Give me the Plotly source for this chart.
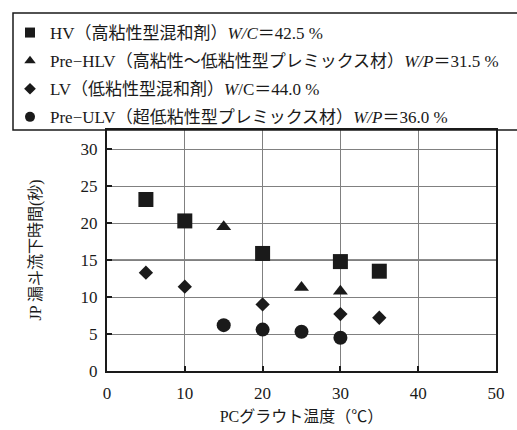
import plotly.graph_objects as go

# Data
hv_x = [5, 10, 20, 30, 35]
hv_y = [23.2, 20.3, 15.9, 14.8, 13.5]
phlv_x = [15, 25, 30]
phlv_y = [19.5, 11.3, 10.8]
lv_x = [5, 10, 20, 30, 35]
lv_y = [13.3, 11.4, 9.0, 7.7, 7.2]
pulv_x = [15, 20, 25, 30]
pulv_y = [6.2, 5.6, 5.3, 4.5]

names = [
    "HV（高粘性型混和剤）<i>W/C</i>＝42.5 %",
    "Pre−HLV（高粘性～低粘性型プレミックス材）<i>W/P</i>＝31.5 %",
    "LV（低粘性型混和剤）<i>W</i>/C＝44.0 %",
    "Pre−ULV（超低粘性型プレミックス材）<i>W/P</i>＝36.0 %",
]
x_ticks = [0, 10, 20, 30, 40, 50]
y_ticks = [0, 5, 10, 15, 20, 25, 30]
x_title = "PCグラウト温度（℃）"
y_title = "JP 漏斗流下時間(秒)"

FONT = "Liberation Serif, Noto Sans CJK JP, serif"
INK = "#1a1a1a"

fig = go.Figure()
series = [
    (hv_x, hv_y, "square", 15, 10),
    (phlv_x, phlv_y, "triangle-up", 13, 10),
    (lv_x, lv_y, "diamond", 11, 9),
    (pulv_x, pulv_y, "circle", 14, 10),
]
for i, (xs, ys, sym, sz, lsz) in enumerate(series):
    fig.add_trace(go.Scatter(
        x=xs, y=ys, mode="markers", name=names[i], showlegend=False,
        marker=dict(symbol=sym, size=sz, color=INK, line=dict(width=0)),
    ))
    # legend-only entry with smaller symbol
    fig.add_trace(go.Scatter(
        x=[None], y=[None], mode="markers", name=names[i], legendgroup=f"g{i}",
        marker=dict(symbol=sym, size=lsz, color=INK, line=dict(width=0)),
    ))

fig.update_layout(
    width=517, height=430,
    margin=dict(l=107, r=21, t=130, b=59, autoexpand=False),
    paper_bgcolor="white", plot_bgcolor="white",
    font=dict(family=FONT, size=16, color=INK),
    showlegend=True,
    legend=dict(
        x=(10 - 107) / 389, y=(371 - 15) / 241, xanchor="left", yanchor="top",
        bgcolor="rgba(0,0,0,0)", borderwidth=0,
        tracegroupgap=3, itemsizing="trace",
        font=dict(family=FONT, size=17, color=INK),
    ),
)
# legend frame (extends past the right edge, as in the reference)
fig.add_shape(type="rect", xref="paper", yref="paper",
              x0=(13 - 107) / 389, x1=1.2, y0=1.0, y1=(371 - 13) / 241,
              line=dict(color=INK, width=1.5), fillcolor="rgba(0,0,0,0)", layer="above")

fig.update_xaxes(
    range=[0, 50], tickvals=x_ticks, ticktext=[str(v) for v in x_ticks],
    tickfont=dict(family=FONT, size=17), ticklabelstandoff=6,
    showgrid=True, gridcolor="#808080", gridwidth=1.3,
    showline=True, linecolor=INK, linewidth=2, mirror=True,
    ticks="inside", ticklen=5, tickcolor=INK, tickwidth=2,
    zeroline=False,
    title=dict(text=x_title, standoff=8, font=dict(family=FONT, size=16)),
)
fig.update_yaxes(
    range=[0, 32.6], tickvals=y_ticks, ticktext=[str(v) for v in y_ticks],
    tickfont=dict(family=FONT, size=17), ticklabelstandoff=4,
    showgrid=True, gridcolor="#808080", gridwidth=1.3,
    showline=True, linecolor=INK, linewidth=2, mirror=True,
    ticks="inside", ticklen=5, tickcolor=INK, tickwidth=2,
    zeroline=False,
)
fig.add_annotation(text=y_title, xref="paper", yref="paper",
                   x=(35 - 107) / 389, y=0.5, xanchor="center", yanchor="middle",
                   textangle=-90, showarrow=False,
                   font=dict(family=FONT, size=16, color=INK))
fig.add_shape(type="line", xref="paper", yref="y", x0=0, x1=1, y0=15, y1=15,
              line=dict(color=INK, width=1.3), layer="below")

fig.write_html("out.html")
